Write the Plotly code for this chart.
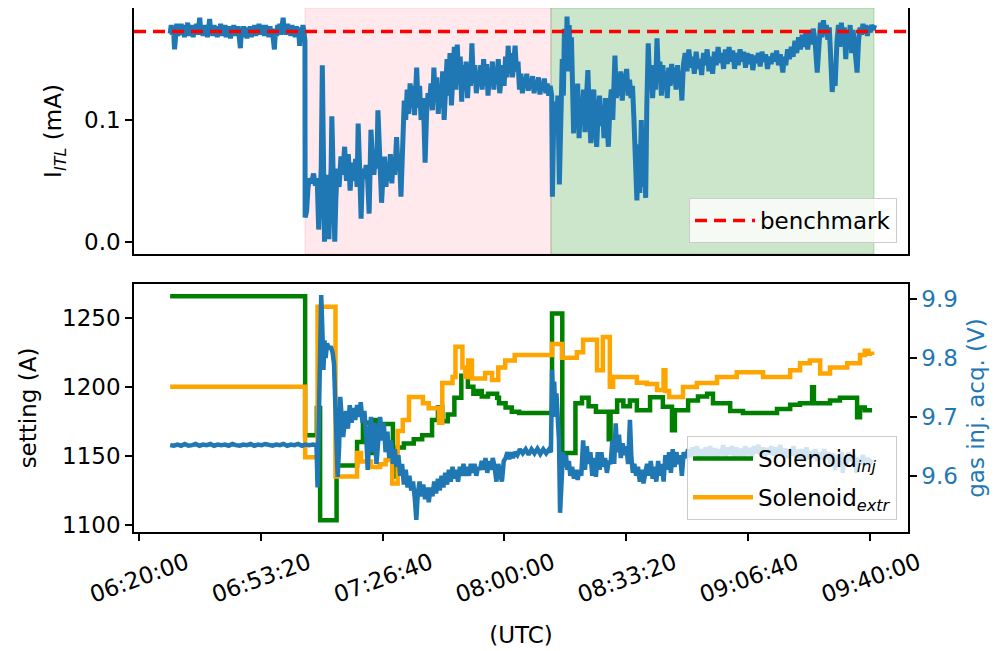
import pandas as pd
import plotly.graph_objects as go

# ---------------- data (time in minutes after 06:00 UTC) ----------------
itl_t = [28.6, 28.9, 29.2, 29.5, 29.8, 30.1, 30.4, 30.7, 31.0, 31.3, 31.6, 31.9, 32.2, 32.5, 32.8, 33.1, 33.4, 33.7,
         34.0, 34.3, 34.6, 34.9, 35.2, 35.5, 35.8, 36.1, 36.4, 36.7, 37.0, 37.3, 37.6, 37.9, 38.2, 38.5, 38.8, 39.1,
         39.4, 39.7, 40.0, 40.3, 40.6, 40.9, 41.2, 41.5, 41.8, 42.1, 42.4, 42.7, 43.0, 43.3, 43.6, 43.9, 44.2, 44.5,
         44.8, 45.1, 45.4, 45.7, 46.0, 46.3, 46.6, 46.9, 47.2, 47.5, 47.8, 48.1, 48.4, 48.7, 49.0, 49.3, 49.6, 49.9,
         50.2, 50.5, 50.8, 51.1, 51.4, 51.7, 52.0, 52.3, 52.6, 52.9, 53.2, 53.5, 53.8, 54.1, 54.4, 54.7, 55.0, 55.3,
         55.6, 55.9, 56.2, 56.5, 56.8, 57.1, 57.4, 57.7, 58.0, 58.3, 58.6, 58.9, 59.2, 59.5, 59.8, 60.1, 60.4, 60.7,
         61.0, 61.3, 61.6, 61.9, 62.2, 62.5, 62.8, 63.1, 63.4, 63.7, 64.0, 64.3, 64.6, 64.9, 65.2, 65.45, 65.5, 65.9,
         66.3, 66.8, 67.3, 67.8, 68.3, 68.8, 69.2, 69.5, 69.9, 70.2, 70.5, 70.8, 71.1, 71.4, 71.7, 72.0, 72.3, 72.6,
         72.8, 73.0, 73.3, 73.6, 73.9,
         74.3, 74.8, 75.3, 75.8, 76.3, 76.8, 77.3, 77.8, 78.3, 78.8, 79.3, 79.7, 80.0, 80.4, 80.8, 81.2, 81.7, 82.2,
         82.6, 83.0, 83.5, 83.9, 84.3, 84.8, 85.1, 85.4, 85.8, 86.1, 86.4,
         86.8, 87.2, 87.6, 88.0, 88.4, 88.8, 89.2, 89.6, 90.0, 90.5, 90.9, 91.3, 91.7, 92.1, 92.6, 93.0, 93.4, 93.8,
         94.2, 94.6, 95.0, 95.4, 95.7, 96.0, 96.4, 96.8, 97.2, 97.6, 98.0, 98.3, 98.7, 99.1, 99.5,
         99.9, 100.3, 100.7, 101.1, 101.5, 101.9, 102.3, 102.7, 103.1, 103.5, 103.9, 104.3, 104.7, 105.1, 105.5,
         105.9, 106.3, 106.7, 107.1, 107.5, 107.9, 108.3, 108.7, 109.1, 109.5, 109.9, 110.3, 110.7, 111.1, 111.5,
         111.9, 112.3, 112.7, 113.1,
         113.5, 113.9, 114.3, 114.7, 115.1, 115.5, 115.9, 116.3, 116.7, 117.1, 117.5, 117.9, 118.3, 118.7, 119.1,
         119.5, 119.9, 120.3, 120.7, 121.0, 121.4, 121.8, 122.2, 122.6, 122.9, 123.3, 123.7, 124.1, 124.5, 124.9,
         125.3, 125.7, 126.1, 126.5, 126.9, 127.3, 127.7, 128.1, 128.5, 128.9, 129.3, 129.7, 130.1, 130.5, 130.9,
         131.3, 131.7, 132.1, 132.5,
         132.9, 133.1, 133.4, 133.8, 134.2, 134.6, 135.0, 135.4, 135.8, 136.1, 136.4, 136.8, 137.1, 137.4, 137.7,
         138.0, 138.3, 138.6, 138.9, 139.2, 139.6, 140.0, 140.4, 140.8, 141.2, 141.6, 142.0, 142.4, 142.8, 143.2,
         143.6, 144.0, 144.4, 144.8, 145.2, 145.6, 146.0, 146.4, 146.8, 147.2, 147.6, 148.0, 148.4, 148.8, 149.2,
         149.6, 150.0, 150.2, 150.6, 151.0, 151.4, 151.8, 152.2, 152.6, 153.0, 153.4, 153.8, 154.2, 154.6, 155.0,
         155.4, 155.8, 156.2, 156.6, 157.0, 157.4, 157.8, 158.2, 158.6, 158.9, 159.3, 159.7, 160.1, 160.5, 160.9,
         161.3, 161.7, 162.1, 162.5, 162.9, 163.3, 163.7, 164.1, 164.5, 164.9, 165.3, 165.7, 166.1, 166.5, 166.9,
         167.3, 167.7, 168.1, 168.5, 168.9, 169.4, 169.9, 170.4, 170.9, 171.4, 171.9, 172.4, 172.9, 173.4, 173.9,
         174.4, 174.9, 175.4, 175.9, 176.4, 176.9, 177.4, 177.9, 178.4, 178.9, 179.4, 179.9, 180.4, 180.9, 181.4,
         181.9, 182.4, 182.9, 183.4, 183.9, 184.4, 184.9, 185.4, 185.9, 186.4, 186.9, 187.4, 187.9, 188.4, 188.9,
         189.4, 189.9, 190.4, 190.9, 191.4, 191.9, 192.4, 192.9, 193.4, 193.9, 194.4, 194.9, 195.4, 195.8, 196.1,
         196.5, 196.9, 197.4, 197.9, 198.4, 198.9, 199.4, 199.9, 200.4, 200.9, 201.4, 201.9, 202.4, 202.9, 203.4,
         203.9, 204.4, 204.9, 205.5, 206.0, 206.4, 206.8, 207.2, 207.6, 208.0, 208.4, 208.8, 209.2, 209.6, 210.0,
         210.4, 210.9, 211.3, 211.7, 212.1, 212.5, 212.9, 213.3, 213.7, 214.1, 214.5, 214.9, 215.3, 215.7, 216.0,
         216.4, 216.8, 217.2, 217.6, 218.0, 218.4, 218.8, 219.2, 219.6, 220.0, 220.4, 220.8, 221.2]
itl_v = [0.171, 0.178, 0.170, 0.176, 0.158, 0.172, 0.179, 0.169, 0.177, 0.171,
         0.179, 0.170, 0.176, 0.168, 0.178, 0.172, 0.180, 0.169, 0.176, 0.170,
         0.178, 0.168, 0.177, 0.171, 0.179, 0.170, 0.178, 0.184, 0.170, 0.177,
         0.169, 0.178, 0.171, 0.176, 0.168, 0.179, 0.183, 0.171, 0.177, 0.169,
         0.178, 0.170, 0.176, 0.168, 0.177, 0.171, 0.179, 0.169, 0.176, 0.170,
         0.178, 0.168, 0.175, 0.170, 0.177, 0.167, 0.176, 0.171, 0.178, 0.169,
         0.176, 0.170, 0.177, 0.168, 0.159, 0.175, 0.169, 0.177, 0.168, 0.176,
         0.167, 0.175, 0.169, 0.177, 0.168, 0.176, 0.170, 0.178, 0.169, 0.177,
         0.171, 0.179, 0.170, 0.178, 0.172, 0.177, 0.169, 0.178, 0.170, 0.176,
         0.168, 0.177, 0.170, 0.175, 0.167, 0.158, 0.174, 0.169, 0.178, 0.171,
         0.179, 0.170, 0.177, 0.184, 0.171, 0.178, 0.170, 0.179, 0.172, 0.177,
         0.169, 0.178, 0.171, 0.176, 0.168, 0.177, 0.170, 0.175, 0.161, 0.176,
         0.170, 0.178, 0.172, 0.165, 0.020, 0.025,
         0.045, 0.052, 0.048, 0.056, 0.046, 0.052, 0.010, 0.045, 0.060, 0.145, 0.040, 0.000, 0.050, 0.030, 0.055,
         0.002, 0.040, 0.060, 0.103, 0.078, 0.020, 0.000, 0.035,
         0.060, 0.045, 0.070, 0.055, 0.078, 0.050, 0.072, 0.042, 0.065, 0.050, 0.068, 0.045, 0.097, 0.060, 0.019,
         0.060, 0.052, 0.063, 0.050, 0.023, 0.092, 0.070, 0.055, 0.075, 0.060, 0.108, 0.070, 0.050, 0.032,
         0.055, 0.070, 0.045, 0.065, 0.050, 0.072, 0.048, 0.068, 0.055, 0.086, 0.060, 0.070, 0.037, 0.070, 0.116,
         0.100, 0.125, 0.105, 0.130, 0.110, 0.128, 0.104, 0.120, 0.143, 0.110, 0.128, 0.100, 0.118, 0.098, 0.065,
         0.105, 0.122, 0.112,
         0.130, 0.108, 0.143, 0.115, 0.135, 0.105, 0.128, 0.110, 0.140, 0.100, 0.132, 0.150, 0.120, 0.155, 0.112,
         0.148, 0.160, 0.125, 0.162, 0.130, 0.152, 0.115, 0.145, 0.125, 0.148, 0.118, 0.140, 0.128, 0.163, 0.130,
         0.145, 0.122, 0.140, 0.128,
         0.145, 0.125, 0.150, 0.128, 0.146, 0.120, 0.140, 0.132, 0.148, 0.125, 0.143, 0.130, 0.150, 0.122, 0.138,
         0.145, 0.128, 0.152, 0.135, 0.161, 0.140, 0.155, 0.135, 0.150, 0.161, 0.140, 0.148, 0.125, 0.138, 0.122,
         0.135, 0.128, 0.138, 0.124, 0.134, 0.126, 0.136, 0.122, 0.132, 0.125, 0.135, 0.121, 0.131, 0.124, 0.134,
         0.122, 0.130, 0.120, 0.128,
         0.120, 0.037, 0.090, 0.115, 0.095, 0.120, 0.047, 0.100, 0.150, 0.120, 0.175, 0.140, 0.185, 0.150, 0.178,
         0.140, 0.168, 0.130, 0.089, 0.120, 0.095, 0.130, 0.085, 0.115, 0.100, 0.125, 0.090, 0.118, 0.141, 0.105,
         0.081, 0.110, 0.125, 0.095, 0.078, 0.105, 0.120, 0.095, 0.112, 0.085, 0.118, 0.100, 0.078, 0.110, 0.125,
         0.100, 0.130, 0.153, 0.118, 0.135, 0.120, 0.140, 0.116, 0.138, 0.125, 0.142, 0.120, 0.133, 0.118, 0.128,
         0.100, 0.060, 0.034, 0.080, 0.040, 0.100, 0.045, 0.090, 0.036, 0.110, 0.163, 0.130, 0.145, 0.118, 0.140,
         0.125, 0.167, 0.135, 0.148, 0.120, 0.145, 0.125, 0.140, 0.118, 0.143, 0.128, 0.146, 0.130, 0.143, 0.125,
         0.145, 0.130, 0.140, 0.116, 0.145, 0.155, 0.140, 0.158, 0.143, 0.152, 0.138, 0.156, 0.142, 0.150, 0.137,
         0.155, 0.145, 0.158, 0.140, 0.152, 0.138, 0.156, 0.145, 0.160, 0.147, 0.155, 0.142, 0.158, 0.146, 0.160,
         0.148, 0.157, 0.142, 0.155, 0.145, 0.158, 0.148, 0.156, 0.143, 0.155, 0.146, 0.154, 0.141, 0.153, 0.147,
         0.155, 0.144, 0.156, 0.148, 0.154, 0.142, 0.152, 0.146, 0.155, 0.148, 0.157, 0.145, 0.154, 0.146, 0.139,
         0.152, 0.145, 0.158, 0.150, 0.160, 0.152, 0.165, 0.155, 0.168, 0.158, 0.170, 0.160, 0.172, 0.158, 0.173,
         0.162, 0.175, 0.165, 0.139, 0.170, 0.180, 0.168, 0.182, 0.170, 0.178, 0.166, 0.176, 0.150, 0.123, 0.140,
         0.128, 0.165, 0.178, 0.160, 0.180, 0.165, 0.176, 0.150, 0.172, 0.160, 0.178, 0.155, 0.174, 0.162, 0.150,
         0.139, 0.165, 0.176, 0.170, 0.179, 0.171, 0.178, 0.169, 0.177, 0.172, 0.178, 0.174, 0.178]

benchmark = 0.1726
pink_span = [65.5, 132.7]
green_span = [132.7, 221.0]

inj_t = [28.6, 65.5, 68.7, 69.6, 74.1, 79.7, 81.3, 83.8, 84.6, 85.8, 86.0, 89.5, 90.3, 92.5, 95.2, 97.5, 100.2,
         101.8, 103.0, 104.5, 106.3, 108.2, 110.0, 111.5, 112.6, 113.8, 115.5, 118.0, 118.5, 120.3, 122.0, 124.0,
         133.0, 135.8, 139.4, 141.2, 143.0, 145.0, 148.5, 149.0, 150.8, 152.5, 154.3, 156.2, 159.8, 163.3, 165.8,
         166.6, 170.2, 172.9, 175.4, 177.0, 181.7, 185.2, 194.5, 198.1, 200.8, 204.1, 204.6, 209.0, 211.7, 216.4,
         217.2, 218.5, 220.5]
inj_v = [1265.5, 1165, 1184.6, 1103.4, 1143, 1160, 1174, 1152, 1176, 1168, 1173, 1135, 1156, 1159, 1162, 1165, 1176,
         1185, 1175, 1180, 1192, 1208, 1200, 1195, 1197, 1193, 1195, 1192, 1188, 1185, 1182, 1181,
         1253, 1152, 1188, 1192, 1186, 1182, 1162, 1182, 1190, 1186, 1190, 1183, 1192.5, 1185.5, 1168.6,
         1183, 1190, 1193, 1195, 1188, 1182.5, 1181, 1184, 1187, 1188, 1199.6, 1188, 1190, 1192, 1178,
         1185, 1183, 1183]

extr_t = [28.6, 65.5, 68.9, 73.8, 79.7, 80.8, 83.5, 86.0, 87.5, 89.3, 90.8, 92.2, 93.9, 97.7, 99.3, 102.1, 103.0,
          105.8, 106.6, 108.5, 109.3, 110.1, 111.1, 114.7, 116.6, 118.3, 120.2, 122.8, 133.0, 135.7, 139.8, 141.5,
          145.3, 146.9, 148.8, 149.7, 154.3, 156.2, 158.9, 161.7, 163.5, 164.0, 165.0, 168.8, 172.6, 178.1, 183.5,
          190.7, 198.1, 200.8, 203.5, 206.3, 209.0, 213.7, 217.2, 218.5, 219.5, 220.5]
extr_v = [1200, 1149, 1258, 1135, 1152, 1146, 1142, 1144, 1147, 1130, 1168, 1176, 1192.6, 1188, 1184.5, 1174, 1202.7,
          1207, 1229, 1214, 1207, 1219, 1206, 1210, 1205, 1214, 1219, 1223, 1231, 1221, 1225, 1234,
          1212, 1236, 1200, 1207, 1207, 1203, 1202, 1197.6, 1212, 1197, 1192.6, 1199.8, 1202.7, 1207, 1210.6,
          1207, 1212, 1217, 1219, 1209.6, 1214, 1217, 1223, 1226, 1224, 1223]

gas_t = [28.6, 29.6, 30.6, 31.6, 32.6, 33.6, 34.6, 35.6, 36.6, 37.6, 38.6, 39.6, 40.6, 41.6, 42.6, 43.6, 44.6, 45.6,
         46.6, 47.6, 48.6, 49.6, 50.6, 51.6, 52.6, 53.6, 54.6, 55.6, 56.6, 57.6, 58.6, 59.6, 60.6, 61.6, 62.6, 63.6,
         64.6, 65.6, 66.6, 67.6, 68.6, 68.9, 69.2, 69.5, 69.9, 70.2, 70.5, 70.8, 71.1, 71.5, 72.0, 72.5, 73.0, 73.4,
         73.8, 74.1, 74.4, 74.8, 75.1, 75.5, 75.9, 76.3, 76.7, 77.2, 77.7, 78.2, 78.7, 79.2, 79.7, 80.2, 80.7, 81.2,
         81.7, 82.2, 82.6, 83.0, 83.5, 84.0, 84.5, 85.0, 85.5, 86.0, 86.5, 87.0, 87.5, 88.0, 88.5, 89.0, 89.5, 90.0,
         90.5, 91.0, 91.5, 92.0, 92.5, 93.0, 93.5, 94.0, 94.5, 95.0, 95.5, 95.9, 96.3, 96.8, 97.3, 97.8, 98.3, 98.8,
         99.3, 99.8, 100.3, 100.8, 101.3, 101.8, 102.3, 102.8, 103.3, 103.8, 104.3, 104.8, 105.3, 105.8, 106.3,
         106.8, 107.3, 107.8, 108.3, 108.8, 109.3, 109.8, 110.3, 110.8, 111.3, 111.8, 112.3, 112.8, 113.3, 113.8,
         114.3, 114.8, 115.3, 115.8, 116.3, 116.8, 117.3, 117.8, 118.3, 118.8, 119.3, 119.8, 120.3, 120.8, 121.3,
         121.8, 122.3, 122.8, 123.5, 124.2, 125.0, 125.8, 126.6, 127.4, 128.2, 129.0, 129.8, 130.6, 131.4, 132.2,
         132.7, 133.0, 133.3, 133.6, 133.9, 134.2, 134.6, 134.9, 135.2, 135.6, 136.0, 136.4, 136.8, 137.2, 137.6,
         138.0, 138.5, 139.0, 139.5, 140.0, 140.5, 141.0, 141.5, 142.0, 142.5, 143.0, 143.5, 144.0, 144.5, 145.0,
         145.5, 146.0, 146.5, 147.0, 147.5, 148.0, 148.5, 149.0, 149.5, 150.0, 150.4, 150.8, 151.3, 151.8, 152.3,
         152.8, 153.3, 153.8, 154.3, 154.7, 155.1, 155.5, 156.0, 156.5, 157.0, 157.5, 158.0, 158.5, 159.0, 159.5,
         160.0, 160.5, 161.0, 161.5, 162.0, 162.5, 163.0, 163.5, 164.0, 164.5, 165.0, 165.5, 166.0, 166.5, 167.0,
         167.5, 168.0, 168.5, 169.0, 169.6, 170.2, 170.8, 171.4, 172.0, 172.6, 173.2, 173.8, 174.4, 175.0, 175.6,
         176.2, 176.8, 177.4, 178.0, 178.6, 179.2, 179.8, 180.4, 181.0, 181.6, 182.2, 182.8, 183.4, 184.0, 184.6,
         185.2, 185.8, 186.4, 187.0, 187.6, 188.2, 188.8, 189.4, 190.0, 190.6, 191.2, 191.8, 192.4, 193.0, 193.6,
         194.2, 194.8, 195.4, 196.0, 196.6, 197.2, 197.8, 198.4, 199.0, 199.6, 200.2, 200.8, 201.4, 202.0, 202.6,
         203.2, 203.8, 204.4, 205.0, 205.6, 206.2, 206.8, 207.4, 208.0, 208.6, 209.2, 209.8, 210.4, 211.0, 211.6,
         212.2, 212.5, 212.9, 213.5, 214.1, 214.7, 215.3, 215.9, 216.3, 216.8, 217.4, 218.0, 218.6, 219.2, 219.8,
         220.4]
gas_v = [9.652, 9.651, 9.653, 9.651, 9.654, 9.651, 9.652, 9.654, 9.651, 9.653, 9.652, 9.654, 9.651, 9.653, 9.652,
         9.653, 9.651, 9.654, 9.652, 9.651, 9.653, 9.652, 9.654, 9.651, 9.653, 9.652, 9.654, 9.652, 9.651, 9.653,
         9.652, 9.654, 9.651, 9.653, 9.652, 9.654, 9.651, 9.653, 9.652, 9.653, 9.652, 9.580, 9.700, 9.860, 9.907,
         9.850, 9.780, 9.830, 9.800, 9.825, 9.815, 9.820, 9.810, 9.790, 9.700, 9.620, 9.598, 9.650, 9.734, 9.700,
         9.666, 9.690, 9.710, 9.680, 9.720, 9.690, 9.715, 9.695, 9.720, 9.700, 9.725, 9.690, 9.710, 9.670, 9.610,
         9.660, 9.700, 9.640, 9.690, 9.620, 9.670, 9.700, 9.660, 9.690, 9.640, 9.675, 9.630, 9.660, 9.620, 9.645,
         9.615, 9.635, 9.600, 9.620, 9.585, 9.610, 9.580, 9.600, 9.575, 9.590, 9.560, 9.525, 9.570, 9.590, 9.565,
         9.585, 9.560, 9.580, 9.555, 9.580, 9.565, 9.590, 9.570, 9.595, 9.575, 9.600, 9.580, 9.605, 9.585, 9.610,
         9.590, 9.615, 9.595, 9.610, 9.590, 9.615, 9.600, 9.620, 9.600, 9.615, 9.600, 9.620, 9.605, 9.620, 9.600,
         9.615, 9.610, 9.625, 9.610, 9.630, 9.605, 9.625, 9.610, 9.630, 9.615, 9.590, 9.620, 9.600, 9.590, 9.625,
         9.630, 9.640, 9.628, 9.640, 9.630, 9.640, 9.635, 9.645, 9.638, 9.645, 9.636, 9.645, 9.638, 9.646, 9.637,
         9.645, 9.638, 9.645, 9.640, 9.780, 9.720, 9.760, 9.700, 9.740, 9.690, 9.660, 9.537, 9.600, 9.640, 9.615,
         9.635, 9.610, 9.625, 9.600, 9.615, 9.595, 9.610, 9.593, 9.610, 9.600, 9.660, 9.610, 9.650, 9.620, 9.640,
         9.600, 9.630, 9.598, 9.640, 9.610, 9.640, 9.615, 9.630, 9.605, 9.625, 9.620, 9.660, 9.620, 9.689, 9.640,
         9.670, 9.630, 9.655, 9.635, 9.650, 9.620, 9.695, 9.630, 9.605, 9.620, 9.600, 9.615, 9.590, 9.610, 9.587,
         9.605, 9.620, 9.600, 9.625, 9.595, 9.615, 9.590, 9.625, 9.600, 9.620, 9.590, 9.635, 9.610, 9.640, 9.605,
         9.645, 9.615, 9.640, 9.620, 9.635, 9.600, 9.640, 9.630, 9.645, 9.632, 9.648, 9.635, 9.650, 9.630, 9.645,
         9.628, 9.648, 9.633, 9.650, 9.632, 9.647, 9.627, 9.645, 9.635, 9.652, 9.630, 9.648, 9.636, 9.650, 9.632,
         9.648, 9.634, 9.646, 9.630, 9.650, 9.635, 9.647, 9.632, 9.650, 9.638, 9.652, 9.636, 9.648, 9.632, 9.647,
         9.636, 9.650, 9.634, 9.648, 9.638, 9.652, 9.633, 9.646, 9.630, 9.645, 9.635, 9.650, 9.632, 9.644, 9.628,
         9.645, 9.630, 9.648, 9.628, 9.642, 9.630, 9.645, 9.625, 9.640, 9.628, 9.645, 9.630, 9.640, 9.620, 9.638,
         9.610, 9.635, 9.620, 9.640, 9.605, 9.630, 9.620, 9.640, 9.625, 9.635, 9.620, 9.605, 9.630, 9.620, 9.635,
         9.618, 9.630, 9.620, 9.628]

tick_labels = ["06:20:00", "06:53:20", "07:26:40", "08:00:00", "08:33:20", "09:06:40", "09:40:00"]
x_range = ["06:18:43", "09:50:19"]

# ---------------- helpers ----------------
BASE = pd.Timestamp("2023-01-01 06:00:00")
DAY = "2023-01-01 "


def tx(mins):
    return BASE + pd.to_timedelta(pd.Series(mins), unit="min")


def tclock(s):
    return pd.Timestamp(DAY + s)


BLUE = "#1f77b4"
FONT = "DejaVu Sans"
FS = 23

fig = go.Figure()

# top panel
fig.add_trace(go.Scatter(x=tx(itl_t), y=itl_v, mode="lines", line=dict(color=BLUE, width=5),
                         showlegend=False, xaxis="x", yaxis="y"))
fig.add_trace(go.Scatter(x=[tclock(x_range[0]), tclock(x_range[1])], y=[benchmark, benchmark], mode="lines",
                         line=dict(color="red", width=3.5, dash="12px,7px"), name="benchmark",
                         xaxis="x", yaxis="y", legend="legend"))

# bottom panel
fig.add_trace(go.Scatter(x=tx(inj_t), y=inj_v, mode="lines", line=dict(color="green", width=4.5, shape="hv"),
                         name="Solenoid<sub><i>inj</i></sub>", xaxis="x2", yaxis="y2", legend="legend2",
                         legendgroup="inj"))
fig.add_trace(go.Scatter(x=tx(extr_t), y=extr_v, mode="lines", line=dict(color="orange", width=4.5, shape="hv"),
                         name="Solenoid<sub><i>extr</i></sub>", xaxis="x2", yaxis="y2", legend="legend2",
                         legendgroup="extr"))
fig.add_trace(go.Scatter(x=tx(gas_t), y=gas_v, mode="lines", line=dict(color=BLUE, width=4.5),
                         showlegend=False, xaxis="x2", yaxis="y3"))

t_pink = tx(pink_span)
t_green = tx(green_span)
fig.add_shape(type="rect", xref="x", yref="y domain", x0=t_pink.iloc[0], x1=t_pink.iloc[1], y0=0, y1=1,
              fillcolor="rgba(255,192,203,0.35)", line=dict(color="rgba(255,192,203,0.6)", width=1), layer="below")
fig.add_shape(type="rect", xref="x", yref="y domain", x0=t_green.iloc[0], x1=t_green.iloc[1], y0=0, y1=1,
              fillcolor="rgba(0,128,0,0.2)", line=dict(color="rgba(0,128,0,0.25)", width=1), layer="below")

tickvals = [tclock(s) for s in tick_labels]
xr = [tclock(x_range[0]), tclock(x_range[1])]
axis_common = dict(showline=True, linecolor="black", linewidth=1.5, ticks="outside", ticklen=7, tickwidth=1.5,
                   tickcolor="black", showgrid=False, zeroline=False, automargin=False,
                   tickfont=dict(family=FONT, size=FS, color="black"))

# the page body adds an 8 px offset, so the figure is 992x643 inside the 1000x651 window
fig.update_layout(
    width=992, height=643,
    margin=dict(l=126, r=92, t=0, b=119),
    paper_bgcolor="white", plot_bgcolor="white",
    font=dict(family=FONT, size=FS, color="black"),
    xaxis=dict(domain=[0, 1], anchor="y", range=xr, matches="x2", showticklabels=False, showline=True,
               mirror=True, linecolor="black", linewidth=1.5, ticks="", showgrid=False, zeroline=False,
               automargin=False),
    yaxis=dict(domain=[0.5305, 1], anchor="x", range=[-0.0101, 0.1920], tickvals=[0.0, 0.1],
               ticktext=["0.0", "0.1"], mirror=True,
               title=dict(text="I<sub><i>ITL</i></sub> (mA)", font=dict(family=FONT, size=FS), standoff=16),
               **axis_common),
    xaxis2=dict(domain=[0, 1], anchor="y2", range=xr, tickvals=tickvals, ticktext=tick_labels, tickangle=-20,
                ticklabelshift=48, mirror=True,
                title=dict(text="(UTC)", font=dict(family=FONT, size=FS), standoff=20),
                **axis_common),
    yaxis2=dict(domain=[0, 0.4733], anchor="x2", range=[1094.9, 1274.4], tickvals=[1100, 1150, 1200, 1250],
                title=dict(text="setting (A)", font=dict(family=FONT, size=FS), standoff=19), **axis_common),
    yaxis3=dict(overlaying="y2", anchor="x2", side="right", range=[9.5043, 9.9260],
                tickvals=[9.6, 9.7, 9.8, 9.9], ticktext=["9.6", "9.7", "9.8", "9.9"],
                showline=True, linecolor="black", linewidth=1.5, ticks="outside", ticklen=7, tickwidth=1.5,
                tickcolor="black", showgrid=False, zeroline=False, automargin=False,
                tickfont=dict(family=FONT, size=FS, color=BLUE),
                title=dict(text="gas inj. acq. (V)", font=dict(family=FONT, size=FS, color=BLUE), standoff=11)),
    legend=dict(x=0.9858, y=0.5515, xanchor="right", yanchor="bottom", bgcolor="rgba(255,255,255,0.8)",
                bordercolor="#cccccc", borderwidth=1, font=dict(family=FONT, size=FS), itemwidth=60),
    legend2=dict(x=0.9858, y=0.0229, xanchor="right", yanchor="bottom", bgcolor="rgba(255,255,255,0.8)",
                 bordercolor="#cccccc", borderwidth=1, font=dict(family=FONT, size=FS), itemwidth=60,
                 tracegroupgap=6),
)

fig.write_html("out.html")
